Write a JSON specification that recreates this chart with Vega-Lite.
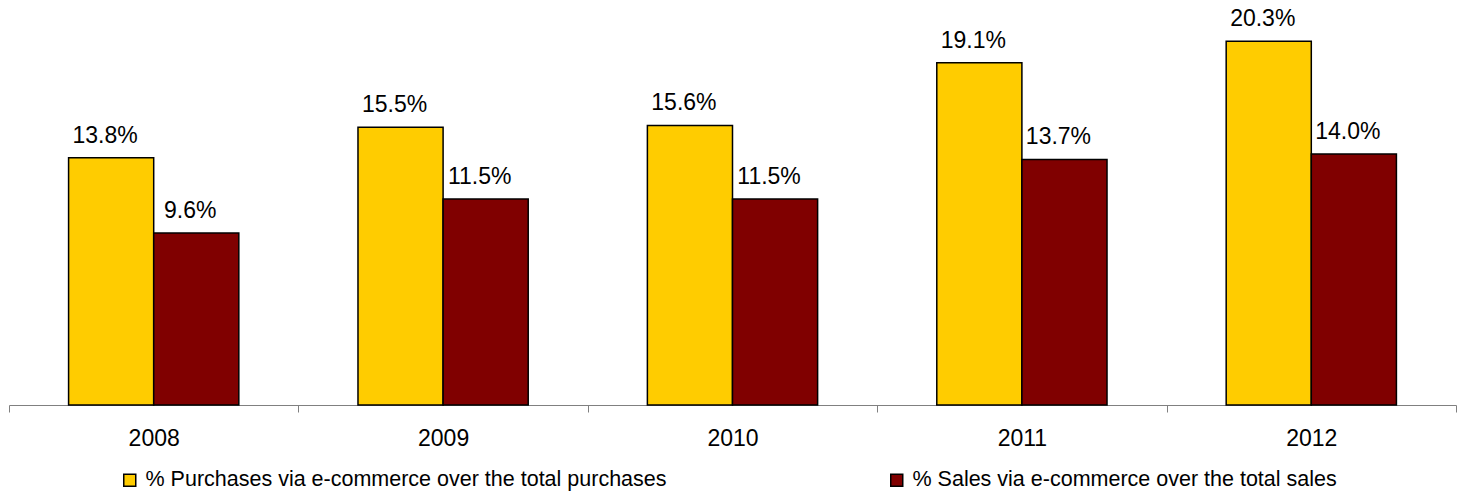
{
  "$schema": "https://vega.github.io/schema/vega-lite/v6.json",
  "width": 1447,
  "height": 405,
  "autosize": {"type": "none"},
  "padding": {"left": 9, "top": 0, "right": 3, "bottom": 92},
  "config": {"view": {"stroke": null}, "font": "Liberation Sans"},
  "data": {
    "values": [
      {"year": "2008", "series": "% Purchases via e-commerce over the total purchases", "value": 0.138},
      {"year": "2008", "series": "% Sales via e-commerce over the total sales", "value": 0.096},
      {"year": "2009", "series": "% Purchases via e-commerce over the total purchases", "value": 0.155},
      {"year": "2009", "series": "% Sales via e-commerce over the total sales", "value": 0.115},
      {"year": "2010", "series": "% Purchases via e-commerce over the total purchases", "value": 0.156},
      {"year": "2010", "series": "% Sales via e-commerce over the total sales", "value": 0.115},
      {"year": "2011", "series": "% Purchases via e-commerce over the total purchases", "value": 0.191},
      {"year": "2011", "series": "% Sales via e-commerce over the total sales", "value": 0.137},
      {"year": "2012", "series": "% Purchases via e-commerce over the total purchases", "value": 0.203},
      {"year": "2012", "series": "% Sales via e-commerce over the total sales", "value": 0.14}
    ]
  },
  "encoding": {
    "x": {
      "field": "year", "type": "nominal",
      "scale": {"paddingInner": 0, "paddingOuter": 0},
      "axis": {"title": null, "labelAngle": 0, "tickBand": "extent", "labelFontSize": 23, "labelColor": "black",
               "domainColor": "#808080", "tickColor": "#808080", "tickSize": 7, "labelPadding": 15, "grid": false}
    },
    "xOffset": {
      "field": "series", "type": "nominal",
      "sort": ["% Purchases via e-commerce over the total purchases", "% Sales via e-commerce over the total sales"],
      "scale": {"paddingOuter": 0.7, "paddingInner": 0}
    },
    "y": {"field": "value", "type": "quantitative", "scale": {"domain": [0, 0.226]}, "axis": null}
  },
  "layer": [
    {
      "mark": {"type": "bar", "stroke": "black", "strokeWidth": 1.5},
      "encoding": {
        "color": {
          "field": "series", "type": "nominal",
          "scale": {"domain": ["% Purchases via e-commerce over the total purchases", "% Sales via e-commerce over the total sales"],
                    "range": ["#FFCC00", "#800000"]},
          "legend": {"title": null, "orient": "none", "legendX": 110, "legendY": 469, "direction": "horizontal",
                     "symbolType": "square", "symbolSize": 144, "symbolStrokeColor": "black", "symbolStrokeWidth": 1.5,
                     "labelFontSize": 21.5, "labelColor": "black", "labelLimit": 1000, "labelOffset": 5, "columnPadding": 219}
        }
      }
    },
    {
      "mark": {"type": "text", "fontSize": 23, "dy": -15, "dx": -6, "baseline": "alphabetic", "color": "black"},
      "encoding": {"text": {"field": "value", "type": "quantitative", "format": ".1%"}}
    }
  ]
}
